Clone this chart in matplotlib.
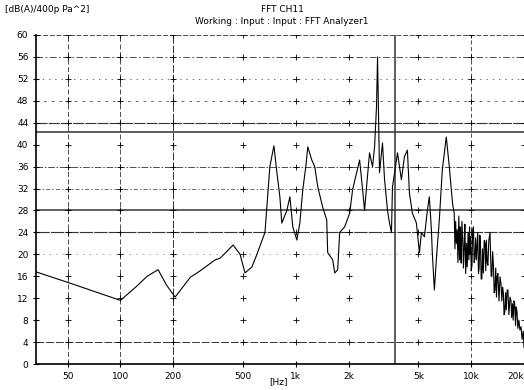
import numpy as np
import matplotlib
matplotlib.use("Agg")
import matplotlib.pyplot as plt

# spectrum (Hz, dB(A)), below ~7.7 kHz
freq_lo = [33, 51, 100, 122, 142, 164, 183, 205, 250, 285, 347, 370, 395, 439, 481,
           513, 562, 600, 667, 711, 750, 780, 811, 832, 889, 925, 961, 1014, 1054,
           1096, 1140, 1170, 1233, 1282, 1334, 1423, 1500, 1520, 1622, 1667, 1733,
           1778, 1898, 2028, 2108, 2222, 2311, 2403, 2466, 2531, 2632, 2738, 2812,
           2884, 2924, 3000, 3120, 3206, 3333, 3420, 3510, 3557, 3700, 3800, 4000,
           4160, 4327, 4443, 4620, 4870, 5067, 5200, 5410, 5623, 5770, 5930, 6000,
           6166, 6325, 6580, 6842, 7210, 7500, 7700]
level_lo = [16.8, 14.8, 11.6, 14.0, 16.0, 17.2, 14.4, 12.2, 15.8, 17.0, 19.0, 19.3,
            20.2, 21.7, 20.0, 16.6, 17.7, 20.0, 24.0, 36.0, 39.8, 34.9, 30.5, 25.7,
            28.0, 30.5, 25.0, 22.6, 25.7, 31.8, 36.0, 39.6, 37.2, 36.0, 32.3, 28.6,
            26.3, 20.3, 19.0, 16.6, 17.2, 24.0, 25.0, 27.5, 31.8, 34.9, 37.2, 31.8,
            28.0, 32.3, 38.5, 36.0, 39.6, 46.9, 56.0, 34.9, 40.3, 33.6, 28.0, 25.7,
            24.0, 32.3, 36.0, 38.5, 33.6, 37.8, 39.0, 31.2, 27.5, 25.7, 20.3, 24.0,
            23.2, 28.0, 30.5, 24.5, 20.3, 13.5, 19.0, 26.3, 35.4, 41.4, 36.0, 31.8]

# dense upper band, 7.85 kHz - 20 kHz
freq_hi = [7850, 8000, 8080, 8150, 8230, 8320, 8400, 8500, 8580, 8650,
           8700, 8770, 8850, 8950, 9030, 9120, 9200, 9300, 9400, 9490,
           9600, 9700, 9780, 9850, 9930, 10000, 10100, 10200, 10300, 10400,
           10500, 10600, 10700, 10820, 10900, 11000, 11100, 11200, 11300, 11400,
           11500, 11600, 11730, 11860, 12000, 12100, 12200, 12330, 12450, 12600,
           12800, 13000, 13120, 13250, 13400, 13520, 13650, 13800, 13930, 14060,
           14200, 14400, 14600, 14800, 14950, 15100, 15250, 15400, 15550, 15700,
           15850, 16030, 16200, 16400, 16650, 16870, 17000, 17200, 17350, 17540,
           17700, 17900, 18050, 18250, 18450, 18700, 18950, 19240, 19500, 19650,
           19800, 20000]
level_hi = [29.0, 27.5, 21.0, 26.0, 22.0, 24.5, 18.5, 27.0, 19.0, 25.0,
            20.5, 18.4, 26.0, 23.0, 17.5, 21.4, 25.5, 16.5, 22.0, 17.7,
            24.0, 19.0, 25.0, 20.0, 23.2, 17.0, 18.0, 24.5, 25.0, 18.5,
            19.5, 23.0, 19.0, 22.0, 24.0, 16.5, 17.5, 23.5, 21.4, 15.5,
            15.5, 21.0, 16.6, 22.5, 22.0, 17.0, 22.6, 18.5, 18.0, 22.5,
            24.0, 16.0, 16.0, 20.5, 17.7, 13.0, 13.5, 17.5, 12.2, 16.0,
            16.5, 11.5, 15.9, 14.5, 11.5, 14.0, 13.0, 9.0, 9.5, 13.0,
            9.9, 13.5, 13.5, 9.0, 12.2, 11.5, 8.5, 11.0, 8.0, 11.5,
            11.0, 7.0, 10.4, 9.5, 6.5, 8.0, 6.2, 6.8, 4.5, 5.2,
            6.0, 3.0]

xticks = [50, 100, 200, 500, 1000, 2000, 5000, 10000, 20000]
xlabels = ["50", "100", "200", "500", "1k", "2k", "5k", "10k", "20k"]
yticks = list(range(0, 61, 4))

# horizontal reference lines: value, style, width
hlines = [(60, (0, (6, 2)), 0.6), (56, (0, (8, 3, 2, 3)), 0.6),
          (52, (0, (2, 7)), 0.5), (48, (0, (4, 7)), 0.5),
          (44, (0, (10, 1)), 0.8), (42.4, "-", 1.1),
          (36, (0, (8, 2, 2, 2)), 0.6), (32, (0, (6, 3, 2, 3)), 0.5),
          (28, "-", 1.1), (24, (0, (12, 1)), 0.8),
          (20, (0, (2, 10)), 0.4), (4, (0, (8, 2)), 0.7)]
vlines = [(50, (0, (6, 3)), 0.6), (100, (0, (6, 3)), 0.6),
          (200, (0, (8, 2)), 0.7), (3700, "-", 1.1), (10000, (0, (5, 3)), 0.6)]

fig = plt.figure(figsize=(5.24, 3.9), dpi=100)
ax = fig.add_axes([36 / 524, 26 / 390, 488 / 524, 329 / 390])

for y, ls, lw in hlines:
    ax.axhline(y, color="0.2", ls=ls, lw=lw, zorder=1)
for x, ls, lw in vlines:
    ax.axvline(x, color="0.2", ls=ls, lw=lw, zorder=1)

gx, gy = np.meshgrid(xticks, yticks[1:])
ax.plot(gx.ravel(), gy.ravel(), "+", color="black", ms=4, mew=0.6, zorder=1)

ax.plot(freq_lo + freq_hi, level_lo + level_hi, color="black", lw=0.8, zorder=3)

ax.set_xscale("log")
ax.set_xlim(33, 20000)
ax.set_ylim(0, 60)
ax.set_xticks(xticks)
ax.set_xticklabels(xlabels)
ax.get_xticklabels()[-1].set_horizontalalignment("right")
ax.xaxis.set_minor_locator(matplotlib.ticker.NullLocator())
ax.set_yticks(yticks)
ax.tick_params(direction="inout", length=5, width=0.8, labelsize=6.5, pad=3)

for side in ["top", "right"]:
    ax.spines[side].set_visible(False)
ax.spines["left"].set_linewidth(1.2)
ax.spines["bottom"].set_linewidth(1.2)

fig.text(5 / 524, 1 - 10 / 390, "[dB(A)/400p Pa^2]", fontsize=6.5, va="center")
fig.text(282 / 524, 1 - 10 / 390, "FFT CH11", fontsize=6.5, ha="center", va="center")
fig.text(282 / 524, 1 - 22 / 390, "Working : Input : Input : FFT Analyzer1",
         fontsize=6.5, ha="center", va="center")
fig.text(278 / 524, 1 - 382 / 390, "[Hz]", fontsize=6.5, ha="center", va="center")

fig.savefig("out.png", dpi=100)
